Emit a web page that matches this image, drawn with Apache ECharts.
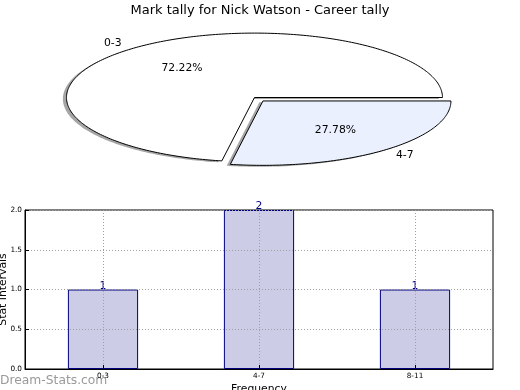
<!DOCTYPE html>
<html>
<head>
<meta charset="utf-8">
<script src="https://cdn.jsdelivr.net/npm/echarts@6/dist/echarts.min.js"></script>
<style>
html,body{margin:0;padding:0;background:#fff;}
#chart{width:520px;height:390px;}
</style>
</head>
<body>
<div id="chart"></div>
<script>
// ---- data ----
const chartTitle = 'Mark tally for Nick Watson - Career tally';
const pieLabels = ['0-3', '4-7'];
const pieValues = [13, 5];
const pieExplode = [0, 0.07];
const barCategories = ['0-3', '4-7', '8-11'];
const barValues = [1, 2, 1];
const xAxisTitle = 'Frequency';
const yAxisTitle = 'Stat Intervals';
const watermark = 'Dream-Stats.com';

const FONT = 'DejaVu Sans';
const pieFill = ['#ffffff', '#eaf0fd'];
const pieTotal = pieValues.reduce((a, b) => a + b, 0);

function renderPie(params, api) {
  const i = params.dataIndex;
  const w = api.getWidth();
  const cx = w * 0.4894, cy = 97.5, rx = 188, ry = 64.4;
  let before = 0;
  for (let k = 0; k < i; k++) before += pieValues[k];
  const a0 = 360 * before / pieTotal;
  const a1 = 360 * (before + pieValues[i]) / pieTotal;
  const mid = (a0 + a1) / 2 * Math.PI / 180;
  const e = pieExplode[i];
  const ox = e * rx * Math.cos(mid), oy = -e * ry * Math.sin(mid);
  const pts = [[cx + ox, cy + oy]];
  const steps = Math.max(2, Math.ceil(a1 - a0));
  for (let s = 0; s <= steps; s++) {
    const a = (a0 + (a1 - a0) * s / steps) * Math.PI / 180;
    pts.push([cx + ox + rx * Math.cos(a), cy + oy - ry * Math.sin(a)]);
  }
  const shadowPts = pts.map(p => [p[0] - 3.6, p[1] + 1.4]);
  const c = Math.cos(mid), sn = Math.sin(mid);
  const pct = (100 * pieValues[i] / pieTotal).toFixed(2) + '%';
  return {
    type: 'group',
    children: [
      { type: 'polygon', shape: { points: shadowPts }, style: { fill: 'rgba(77,77,77,0.5)' } },
      { type: 'polygon', shape: { points: pts }, style: { fill: pieFill[i % pieFill.length], stroke: '#000', lineWidth: 1 } },
      { type: 'text', x: cx + ox + 1.1 * rx * c, y: cy + oy - 1.1 * ry * sn,
        style: { text: pieLabels[i], fill: '#000', fontSize: 10.8, fontFamily: FONT,
                 align: c < 0 ? 'right' : 'left', verticalAlign: 'middle' } },
      { type: 'text', x: cx + ox + 0.6 * rx * c, y: cy + oy - 0.6 * ry * sn,
        style: { text: pct, fill: '#000', fontSize: 10.8, fontFamily: FONT,
                 align: 'center', verticalAlign: 'middle' } }
    ]
  };
}

const chart = echarts.init(document.getElementById('chart'), null, { renderer: 'canvas' });
const gridLine = { show: true, lineStyle: { color: '#a0a0a0', width: 1, type: [1, 2] } };
chart.setOption({
  animation: false,
  backgroundColor: '#ffffff',
  textStyle: { fontFamily: FONT },
  title: {
    text: chartTitle, left: 'center', top: 4, padding: 0,
    textStyle: { fontSize: 13, fontWeight: 'normal', color: '#000', fontFamily: FONT }
  },
  graphic: [{
    type: 'text', left: 0, top: 375,
    style: { text: watermark, fill: '#9a9a9a', fontSize: 12.3, fontFamily: FONT }
  }],
  grid: { left: 25, top: 210, width: 468, height: 159, show: true, borderColor: '#000', borderWidth: 1,
          backgroundColor: 'transparent', outerBoundsMode: 'none', containLabel: false },
  xAxis: {
    type: 'category', data: barCategories, boundaryGap: true, z: 5,
    axisLine: { lineStyle: { color: '#000', width: 1 } },
    axisTick: { show: true, alignWithLabel: true, inside: true, length: 4, lineStyle: { color: '#000' } },
    axisLabel: { fontSize: 7.3, color: '#000', margin: 4, fontFamily: FONT },
    splitLine: Object.assign({ alignWithLabel: true }, gridLine),
    name: xAxisTitle, nameLocation: 'middle', nameGap: 15, nameMoveOverlap: false,
    nameTextStyle: { fontSize: 10.8, color: '#000', fontFamily: FONT }
  },
  yAxis: {
    type: 'value', min: 0, max: 2, interval: 0.5, z: 5,
    axisLine: { show: true, lineStyle: { color: '#000', width: 1 } },
    axisTick: { show: true, inside: true, length: 4, lineStyle: { color: '#000' } },
    axisLabel: { fontSize: 7.3, color: '#000', margin: 3, fontFamily: FONT, formatter: v => v.toFixed(1) },
    splitLine: gridLine,
    name: yAxisTitle, nameLocation: 'middle', nameGap: 16, nameRotate: 90, nameMoveOverlap: false,
    nameTextStyle: { fontSize: 10.8, color: '#000', fontFamily: FONT }
  },
  series: [
    {
      type: 'custom', coordinateSystem: 'none', silent: true,
      data: pieValues, renderItem: renderPie
    },
    {
      type: 'bar', data: barValues, barWidth: '45%', z: 1,
      itemStyle: { color: '#ccccE6', borderColor: '#000080', borderWidth: 1 },
      label: { show: true, position: 'top', distance: -2, color: '#000080', fontSize: 10.8, fontFamily: FONT }
    }
  ]
});
</script>
</body>
</html>
